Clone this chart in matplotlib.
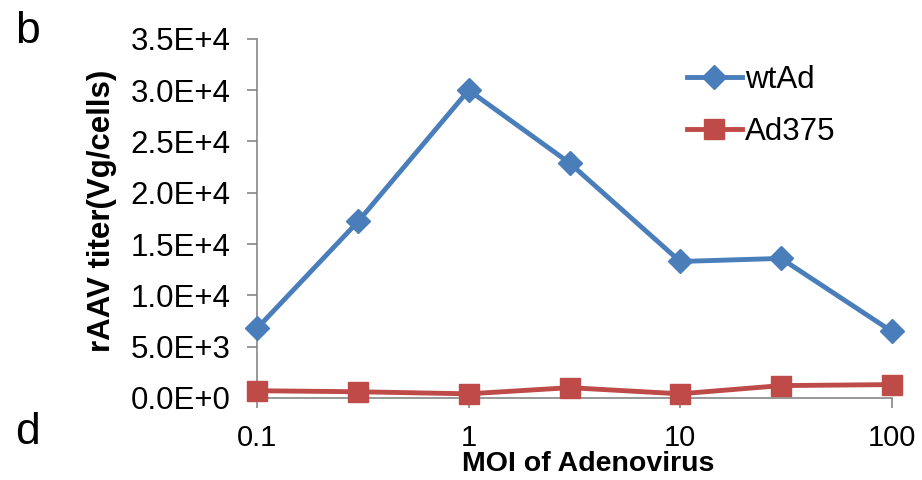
import matplotlib
matplotlib.use("Agg")
import matplotlib.pyplot as plt
from matplotlib.ticker import FixedLocator, FuncFormatter, NullLocator

moi = [0.1, 0.3, 1, 3, 10, 30, 100]
wtad = [6800, 17200, 30000, 22900, 13300, 13600, 6500]
ad375 = [700, 600, 400, 1000, 400, 1200, 1300]
y_ticks = [0, 5000, 10000, 15000, 20000, 25000, 30000, 35000]
x_ticks = [0.1, 1, 10, 100]
x_tick_labels = ["0.1", "1", "10", "100"]

plt.rcParams["font.family"] = ["Liberation Sans", "DejaVu Sans"]

BLUE = "#4A7EBB"
RED = "#BE4B48"
GREY = "#868686"


def sci_label(v, _pos=None):
    if v == 0:
        return "0.0E+0"
    exp = len(str(int(v))) - 1
    return f"{v / 10 ** exp:.1f}E+{exp}"


fig = plt.figure(figsize=(9.22, 4.8), dpi=100)
ax = fig.add_axes([0.279, 0.171, 0.688, 0.748])

ax.plot(moi, wtad, color=BLUE, linewidth=3.5, marker="D", markersize=12,
        markeredgecolor=BLUE, label="wtAd", clip_on=False, zorder=3)
ax.plot(moi, ad375, color=RED, linewidth=3.5, marker="s", markersize=14,
        markeredgecolor=RED, label="Ad375", clip_on=False, zorder=3)

ax.set_xscale("log")
ax.set_xlim(0.1, 100)
ax.set_ylim(0, 35000)
ax.xaxis.set_major_locator(FixedLocator(x_ticks))
ax.xaxis.set_minor_locator(NullLocator())
ax.set_xticklabels(x_tick_labels)
ax.yaxis.set_major_locator(FixedLocator(y_ticks))
ax.yaxis.set_major_formatter(FuncFormatter(sci_label))

for side in ("top", "right"):
    ax.spines[side].set_visible(False)
for side in ("left", "bottom"):
    ax.spines[side].set_color(GREY)
    ax.spines[side].set_linewidth(1.2)
ax.tick_params(axis="both", which="major", direction="out", length=7,
               width=1.2, color=GREY)
ax.tick_params(axis="y", labelsize=22.5, pad=12)
ax.tick_params(axis="x", labelsize=21, pad=12)

ax.set_ylabel("rAAV titer(Vg/cells)", fontsize=22.5, fontweight="bold")
ax.yaxis.set_label_coords(-0.221, 0.522)
ax.set_xlabel("MOI of Adenovirus", fontsize=20.5, fontweight="bold")
ax.xaxis.set_label_coords(0.522, -0.147)

ax.legend(loc="upper left", bbox_to_anchor=(0.745, 0.865), bbox_transform=fig.transFigure,
          frameon=False, fontsize=22.5, handlelength=1.75, handletextpad=0.12,
          labelspacing=0.7, borderaxespad=0, borderpad=0)

fig.text(0.016, 0.935, "b", fontsize=32, va="center", ha="left")
fig.text(0.016, 0.10, "d", fontsize=32, va="center", ha="left")

fig.savefig("out.png", dpi=100)
